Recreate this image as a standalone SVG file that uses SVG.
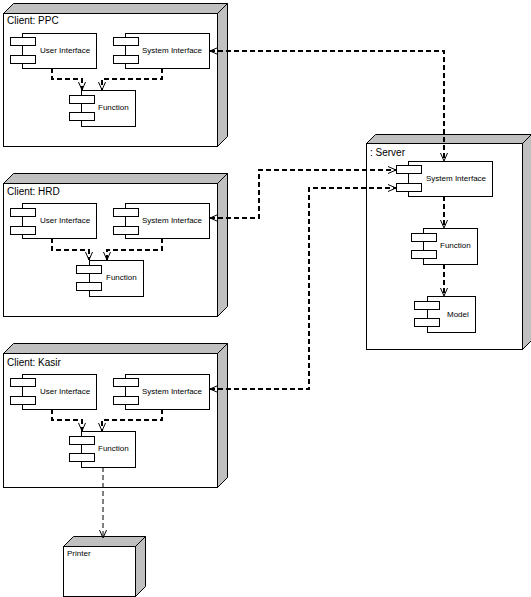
<svg xmlns="http://www.w3.org/2000/svg" width="531" height="597" viewBox="0 0 531 597">
<style>
.bg{fill:#fff}
.front{fill:#fff;stroke:#000;stroke-width:1}
.side{fill:#c0c0c0;stroke:#000;stroke-width:1}
.comp{fill:#fff;stroke:#000;stroke-width:1}
.nl{font-family:"Liberation Sans",Arial,sans-serif;font-size:10px;fill:#000}
.cl{font-family:"Liberation Sans",Arial,sans-serif;font-size:8px;fill:#000}
.dep{fill:none;stroke:#000;stroke-width:2;stroke-dasharray:5 3}
.thin{fill:none;stroke:#000;stroke-width:1;stroke-dasharray:5 3}
</style>
<defs>
<marker id="ah" viewBox="0 0 8 8" refX="8" refY="4" markerWidth="8" markerHeight="8" markerUnits="userSpaceOnUse" orient="auto-start-reverse">
<path d="M0,0.5 L8,4 L0,7.5" fill="none" stroke="#000" stroke-width="1"/>
</marker>
</defs>
<rect class="bg" x="0" y="0" width="531" height="597"/>

<g id="client-ppc">
<polygon class="side" points="3.5,13.5 13.5,3.5 227.5,3.5 217.5,13.5"/>
<polygon class="side" points="217.5,13.5 227.5,3.5 227.5,136.5 217.5,146.5"/>
<rect class="front" x="3.5" y="13.5" width="214" height="133"/>
<text class="nl" x="7" y="24">Client: PPC</text>
<g id="ppc-ui"><rect class="comp" x="22.5" y="33.5" width="74" height="35"/><rect class="comp" x="10.5" y="37.5" width="25" height="8"/><rect class="comp" x="10.5" y="55.5" width="25" height="8"/><text class="cl" x="40" y="53">User Interface</text></g>
<g id="ppc-si"><rect class="comp" x="125.5" y="33.5" width="84" height="35"/><rect class="comp" x="113.5" y="37.5" width="25" height="8"/><rect class="comp" x="113.5" y="55.5" width="25" height="8"/><text class="cl" x="142" y="53">System Interface</text></g>
<g id="ppc-fn"><rect class="comp" x="81.5" y="90.5" width="54" height="36"/><rect class="comp" x="69.5" y="95.5" width="25" height="8"/><rect class="comp" x="69.5" y="112.5" width="25" height="8"/><text class="cl" x="98" y="110">Function</text></g>
</g>

<g id="client-hrd">
<polygon class="side" points="3.5,183.5 13.5,173.5 227.5,173.5 217.5,183.5"/>
<polygon class="side" points="217.5,183.5 227.5,173.5 227.5,306.5 217.5,316.5"/>
<rect class="front" x="3.5" y="183.5" width="214" height="133"/>
<text class="nl" x="7" y="195">Client: HRD</text>
<g id="hrd-ui"><rect class="comp" x="22.5" y="203.5" width="74" height="35"/><rect class="comp" x="10.5" y="208.5" width="25" height="8"/><rect class="comp" x="10.5" y="226.5" width="25" height="8"/><text class="cl" x="40" y="223">User Interface</text></g>
<g id="hrd-si"><rect class="comp" x="125.5" y="203.5" width="84" height="35"/><rect class="comp" x="113.5" y="208.5" width="25" height="8"/><rect class="comp" x="113.5" y="226.5" width="25" height="8"/><text class="cl" x="142" y="223">System Interface</text></g>
<g id="hrd-fn"><rect class="comp" x="89.5" y="260.5" width="54" height="36"/><rect class="comp" x="76.5" y="265.5" width="25" height="8"/><rect class="comp" x="76.5" y="282.5" width="25" height="8"/><text class="cl" x="106" y="280">Function</text></g>
</g>

<g id="client-kasir">
<polygon class="side" points="3.5,353.5 13.5,343.5 227.5,343.5 217.5,353.5"/>
<polygon class="side" points="217.5,353.5 227.5,343.5 227.5,477.5 217.5,487.5"/>
<rect class="front" x="3.5" y="353.5" width="214" height="134"/>
<text class="nl" x="7" y="366">Client: Kasir</text>
<g id="kasir-ui"><rect class="comp" x="22.5" y="374.5" width="74" height="35"/><rect class="comp" x="10.5" y="378.5" width="25" height="8"/><rect class="comp" x="10.5" y="396.5" width="25" height="8"/><text class="cl" x="40" y="394">User Interface</text></g>
<g id="kasir-si"><rect class="comp" x="125.5" y="374.5" width="84" height="35"/><rect class="comp" x="113.5" y="378.5" width="25" height="8"/><rect class="comp" x="113.5" y="396.5" width="25" height="8"/><text class="cl" x="142" y="394">System Interface</text></g>
<g id="kasir-fn"><rect class="comp" x="81.5" y="431.5" width="54" height="36"/><rect class="comp" x="69.5" y="436.5" width="25" height="8"/><rect class="comp" x="69.5" y="453.5" width="25" height="8"/><text class="cl" x="98" y="451">Function</text></g>
</g>

<g id="server">
<polygon class="side" points="366.5,143.5 375.5,134.5 531.5,134.5 522.5,143.5"/>
<polygon class="side" points="522.5,143.5 531.5,134.5 531.5,340.5 522.5,349.5"/>
<rect class="front" x="366.5" y="143.5" width="156" height="206"/>
<text class="nl" x="370" y="156">: Server</text>
<g id="srv-si"><rect class="comp" x="408.5" y="161.5" width="84" height="35"/><rect class="comp" x="396.5" y="165.5" width="25" height="8"/><rect class="comp" x="396.5" y="183.5" width="25" height="8"/><text class="cl" x="426" y="181">System Interface</text></g>
<g id="srv-fn"><rect class="comp" x="423.5" y="228.5" width="54" height="36"/><rect class="comp" x="411.5" y="233.5" width="25" height="8"/><rect class="comp" x="411.5" y="250.5" width="25" height="8"/><text class="cl" x="440" y="248">Function</text></g>
<g id="srv-model"><rect class="comp" x="427.5" y="296.5" width="48" height="36"/><rect class="comp" x="414.5" y="301.5" width="25" height="8"/><rect class="comp" x="414.5" y="318.5" width="25" height="8"/><text class="cl" x="447" y="317">Model</text></g>
</g>

<g id="printer">
<polygon class="side" points="63.5,546.5 73.5,536.5 145.5,536.5 135.5,546.5"/>
<polygon class="side" points="135.5,546.5 145.5,536.5 145.5,586.5 135.5,596.5"/>
<rect class="front" x="63.5" y="546.5" width="72" height="50"/>
<text class="cl" x="67" y="556">Printer</text>
</g>

<g id="connectors">
<polyline class="dep" points="52,68 52,79 82,79 82,90" marker-end="url(#ah)"/>
<polyline class="dep" points="162,68 162,79 102,79 102,90" marker-end="url(#ah)"/>
<polyline class="dep" points="52,238 52,250 89,250 89,260" marker-end="url(#ah)"/>
<polyline class="dep" points="162,238 162,250 107,250 107,260" marker-end="url(#ah)"/>
<polyline class="dep" points="52,409 52,420 82,420 82,431" marker-end="url(#ah)"/>
<polyline class="dep" points="162,409 162,420 102,420 102,431" marker-end="url(#ah)"/>
<polyline class="dep" points="444,196 444,228" marker-end="url(#ah)"/>
<polyline class="dep" points="444,264 444,296" marker-end="url(#ah)"/>
<polyline class="dep" points="210,51 444,51 444,161" marker-start="url(#ah)" marker-end="url(#ah)"/>
<polyline class="dep" points="210,218 259,218 259,170 396,170" marker-start="url(#ah)" marker-end="url(#ah)"/>
<polyline class="dep" points="210,389 309,389 309,188 396,188" marker-start="url(#ah)" marker-end="url(#ah)"/>
<polyline class="thin" points="103,467 103,538" marker-end="url(#ah)"/>
</g>
</svg>
